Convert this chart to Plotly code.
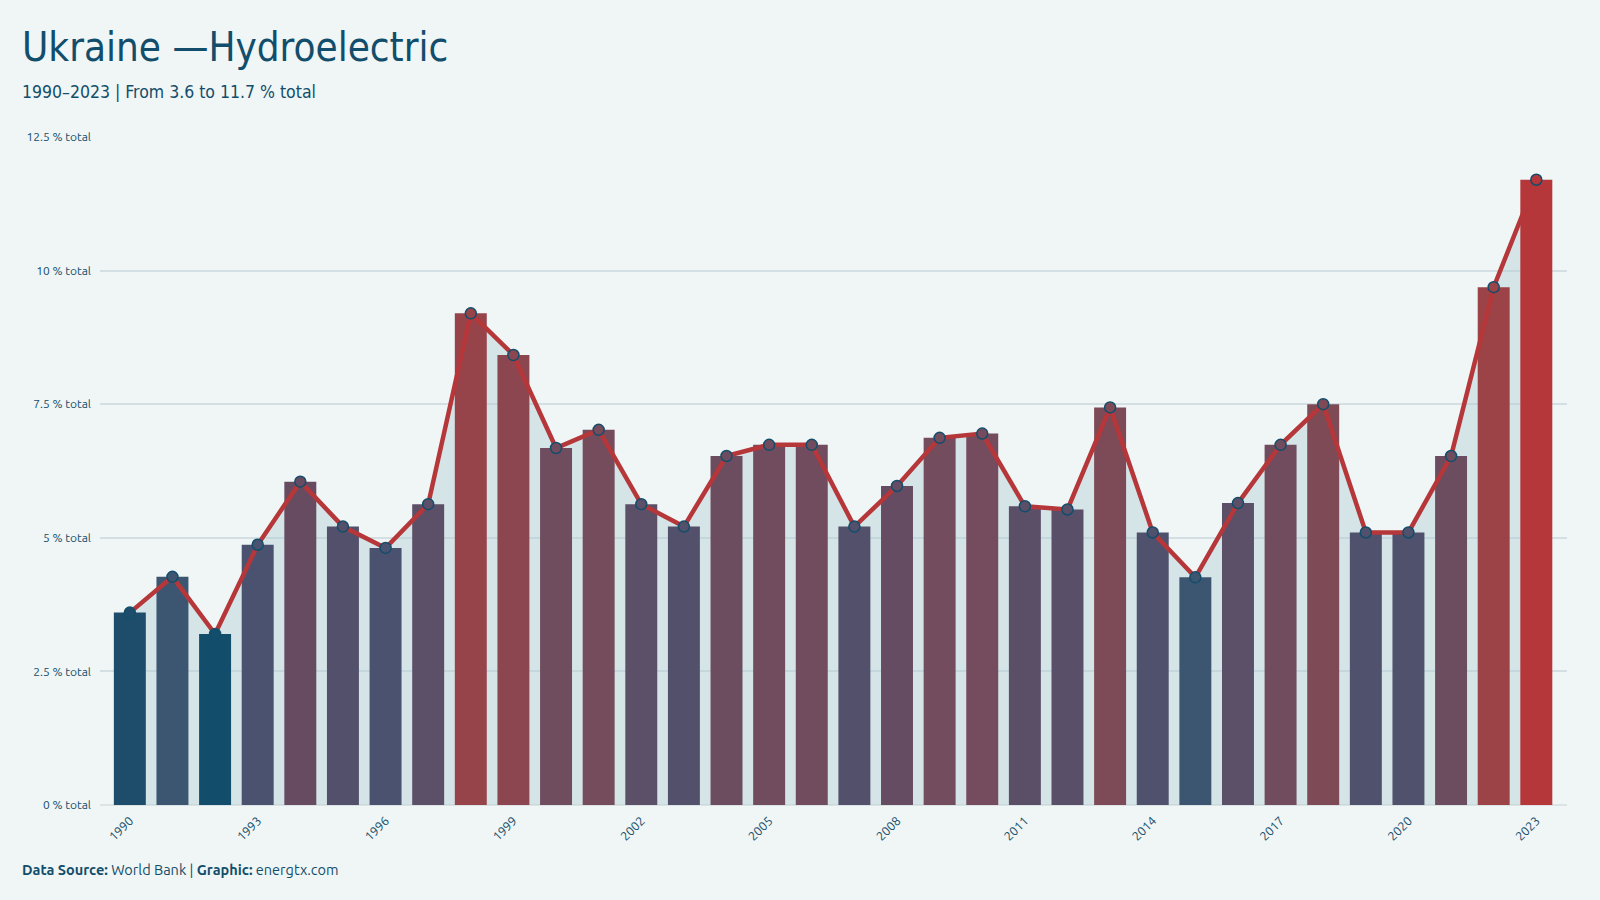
import plotly.graph_objects as go

years = list(range(1990, 2024))
values = [3.6, 4.27, 3.2, 4.87, 6.05, 5.21, 4.81, 5.63, 9.2, 8.42,
          6.68, 7.02, 5.63, 5.21, 6.53, 6.74, 6.74, 5.21, 5.97, 6.87,
          6.95, 5.59, 5.53, 7.44, 5.1, 4.26, 5.65, 6.74, 7.5, 5.1,
          5.1, 6.53, 9.69, 11.7]
y_tickvals = [0, 2.5, 5, 7.5, 10, 12.5]
y_ticktext = ["0 % total", "2.5 % total", "5 % total", "7.5 % total", "10 % total", "12.5 % total"]
x_tickvals = list(range(1990, 2024, 3))

DARK = "#124e6b"
RED = "#b5373a"
BG = "#f0f5f5"
FONT = "Ubuntu, 'Noto Sans', sans-serif"
TFONT = "'Ubuntu Condensed', 'Liberation Sans Narrow', 'DejaVu Sans Condensed', 'Noto Sans', sans-serif"

vmin, vmax = min(values), max(values)
# gradient stops (position in value range, colour)
scale = [
    [0.0, "#124e6b"],
    [0.047, "#1e4d6b"],
    [0.125, "#3c5672"],
    [0.196, "#4b5270"],
    [0.238, "#52506a"],
    [0.287, "#5c4f68"],
    [0.335, "#674b61"],
    [0.39, "#6c4d5f"],
    [0.44, "#744c5d"],
    [0.506, "#7e4a56"],
    [0.614, "#8c4650"],
    [0.706, "#97434a"],
    [0.764, "#9c4347"],
    [1.0, "#b5373a"],
]
XR = [1989.3, 2023.72]
YR = [0, 12.5]

fig = go.Figure()
# area fill on the base axes (drawn beneath the overlay)
fig.add_trace(go.Scatter(x=years, y=values, mode="lines", fill="tozeroy",
                         fillcolor="rgba(176,205,212,0.42)", line=dict(width=0),
                         hoverinfo="skip", showlegend=False, xaxis="x", yaxis="y"))
fig.add_trace(go.Bar(x=years, y=values, width=0.75,
                     marker=dict(color=values, colorscale=scale, cmin=vmin, cmax=vmax,
                                 line=dict(width=0)),
                     showlegend=False, xaxis="x2", yaxis="y2"))
fig.add_trace(go.Scatter(x=years, y=values, mode="lines+markers",
                         line=dict(color=RED, width=4.5),
                         marker=dict(size=11, color=values, colorscale=scale, cmin=vmin, cmax=vmax,
                                     line=dict(color=DARK, width=1.5)),
                         showlegend=False, xaxis="x2", yaxis="y2"))

fig.update_layout(
    width=1600, height=900,
    paper_bgcolor=BG, plot_bgcolor=BG,
    margin=dict(l=100, r=33, t=137, b=95),
    font=dict(family=FONT, color=DARK),
    xaxis=dict(range=XR, tickvals=x_tickvals, tickangle=-45,
               tickfont=dict(size=12.5, color=DARK), showgrid=False, zeroline=False,
               showline=False, ticks="", ticklabelstandoff=5),
    yaxis=dict(range=YR, tickvals=y_tickvals, ticktext=y_ticktext,
               tickfont=dict(size=12, color=DARK), gridcolor="#d3dfe2", gridwidth=1.5,
               zeroline=True, zerolinecolor="#dbe3e4", zerolinewidth=2, showline=False,
               ticklabelstandoff=8),
    xaxis2=dict(range=XR, overlaying="x", visible=False),
    yaxis2=dict(range=YR, overlaying="y", visible=False),
    annotations=[
        dict(text="Ukraine —Hydroelectric", xref="paper", yref="paper",
             x=-0.0545, y=1.1347, xanchor="left", yanchor="middle", showarrow=False,
             font=dict(family=TFONT, size=40, color=DARK)),
        dict(text="1990–2023 | From 3.6 to 11.7 % total", xref="paper", yref="paper",
             x=-0.0545, y=1.0674, xanchor="left", yanchor="middle", showarrow=False,
             font=dict(family=TFONT, size=17.5, color=DARK)),
        dict(text="<b>Data Source:</b> World Bank | <b>Graphic:</b> energtx.com",
             xref="paper", yref="paper", x=-0.0545, y=-0.0973, xanchor="left",
             yanchor="middle", showarrow=False, font=dict(family=FONT, size=14.5, color=DARK)),
    ],
    bargap=0.25,
)

fig.write_html("out.html")
